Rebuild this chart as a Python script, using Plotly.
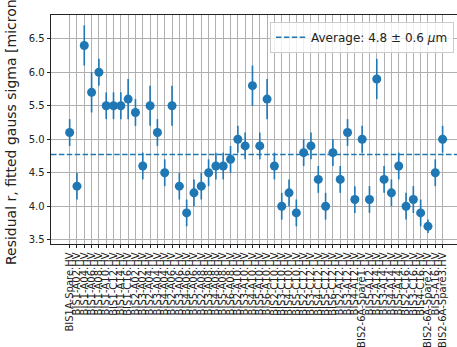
import numpy as np
import plotly.graph_objects as go

labels = [
    "BIS1A-Spare.HV", "BIS1-A02.HV", "BIS1-A04.HV", "BIS1-A06.HV", "BIS1-A08.HV",
    "BIS1-A10.HV", "BIS1-C12.HV", "BIS1-A14.HV", "BIS1-C16.HV", "BIS2-A02.HV",
    "BIS3-A02.HV", "BIS2-A04.HV", "BIS3-A04.HV", "BIS4-A04.HV", "BIS2-A06.HV",
    "BIS3-A06.HV", "BIS4-A06.HV", "BIS5-A06.HV", "BIS2-A08.HV", "BIS3-A08.HV",
    "BIS4-A08.HV", "BIS5-A08.HV", "BIS6-A08.HV", "BIS2-A10.HV", "BIS3-A10.HV",
    "BIS4-A10.HV", "BIS5-A10.HV", "BIS6-A10.HV", "BIS2-C10.HV", "BIS3-C10.HV",
    "BIS4-C10.HV", "BIS5-C10.HV", "BIS2-C12.HV", "BIS3-C12.HV", "BIS4-C12.HV",
    "BIS5-C12.HV", "BIS6-C12.HV", "BIS2-A12.HV", "BIS3-A12.HV", "BIS4-A12.HV",
    "BIS2-6A-Spare1.HV", "BIS5-A12.HV", "BIS2-A14.HV", "BIS3-A14.HV", "BIS4-A14.HV",
    "BIS5-A14.HV", "BIS2-C16.HV", "BIS3-C16.HV", "BIS4-C16.HV", "BIS2-6A-Spare2.HV",
    "BIS5-A16.HV", "BIS2-6A-Spare3.HV",
]

sigma = [
    5.1, 4.3, 6.4, 5.7, 6.0, 5.5, 5.5, 5.5, 5.6, 5.4,
    4.6, 5.5, 5.1, 4.5, 5.5, 4.3, 3.9, 4.2, 4.3, 4.5,
    4.6, 4.6, 4.7, 5.0, 4.9, 5.8, 4.9, 5.6, 4.6, 4.0,
    4.2, 3.9, 4.8, 4.9, 4.4, 4.0, 4.8, 4.4, 5.1, 4.1,
    5.0, 4.1, 5.9, 4.4, 4.2, 4.6, 4.0, 4.1, 3.9, 3.7,
    4.5, 5.0,
]

sigma_err = [
    0.2, 0.2, 0.3, 0.3, 0.2, 0.2, 0.2, 0.2, 0.3, 0.2,
    0.2, 0.3, 0.2, 0.2, 0.3, 0.2, 0.2, 0.2, 0.2, 0.2,
    0.2, 0.2, 0.2, 0.2, 0.2, 0.3, 0.2, 0.3, 0.2, 0.2,
    0.2, 0.2, 0.2, 0.2, 0.2, 0.2, 0.2, 0.2, 0.2, 0.2,
    0.2, 0.2, 0.3, 0.2, 0.2, 0.2, 0.2, 0.2, 0.2, 0.1,
    0.2, 0.2,
]

y_ticks = [3.5, 4.0, 4.5, 5.0, 5.5, 6.0, 6.5]
avg_text = "Average: 4.8 \u00b1 0.6 <i>\u03bc</i>m"
y_title = "Residual r, fitted gauss sigma [micron]"

x = list(range(len(labels)))
mean_sigma = float(np.mean(sigma))
x_range = [-2.55, 52.97]
y_range = [3.436, 6.855]
blue = "#1f77b4"

fig = go.Figure()
fig.add_trace(go.Scatter(
    x=x, y=sigma, mode="markers",
    marker=dict(color=blue, size=9),
    error_y=dict(type="data", array=sigma_err, visible=True,
                 thickness=1.6, width=0, color=blue),
    showlegend=False,
))
fig.add_trace(go.Scatter(
    x=x_range, y=[mean_sigma, mean_sigma], mode="lines",
    line=dict(color=blue, dash="5.5px,2.4px", width=1.5),
    name=avg_text,
))

fig.update_layout(
    width=457, height=347,
    margin=dict(l=51, r=0, t=15, b=103, autoexpand=False),
    plot_bgcolor="white", paper_bgcolor="white",
    font=dict(family="DejaVu Sans", size=10, color="#222"),
    legend=dict(
        x=0.9926, y=0.9708, xanchor="right", yanchor="top",
        bordercolor="#cccccc", borderwidth=1,
        bgcolor="rgba(255,255,255,0.8)",
        font=dict(size=12, family="DejaVu Sans", color="#222"),
    ),
)
fig.update_xaxes(
    range=x_range, tickmode="array", tickvals=x, ticktext=labels,
    tickangle=-90, ticks="outside", ticklen=3.5, tickwidth=0.8, tickcolor="#222",
    showgrid=True, gridcolor="#b0b0b0", gridwidth=0.8,
    showline=True, linecolor="#222", linewidth=0.8, mirror=True,
    zeroline=False, tickfont=dict(size=10), automargin=False,
)
fig.update_yaxes(
    range=y_range, tickmode="array", tickvals=y_ticks,
    ticktext=[f"{v:.1f}" for v in y_ticks],
    ticks="outside", ticklen=3.5, tickwidth=0.8, tickcolor="#222",
    showgrid=True, gridcolor="#b0b0b0", gridwidth=0.8,
    showline=True, linecolor="#222", linewidth=0.8, mirror=False,
    zeroline=False, tickfont=dict(size=10), automargin=False,
    title=dict(text=y_title, font=dict(size=14), standoff=8),
)

fig.write_html(
    "out.html",
    config={"displayModeBar": False},
    post_script="document.body.style.margin='0px';document.body.style.overflow='hidden';",
)
